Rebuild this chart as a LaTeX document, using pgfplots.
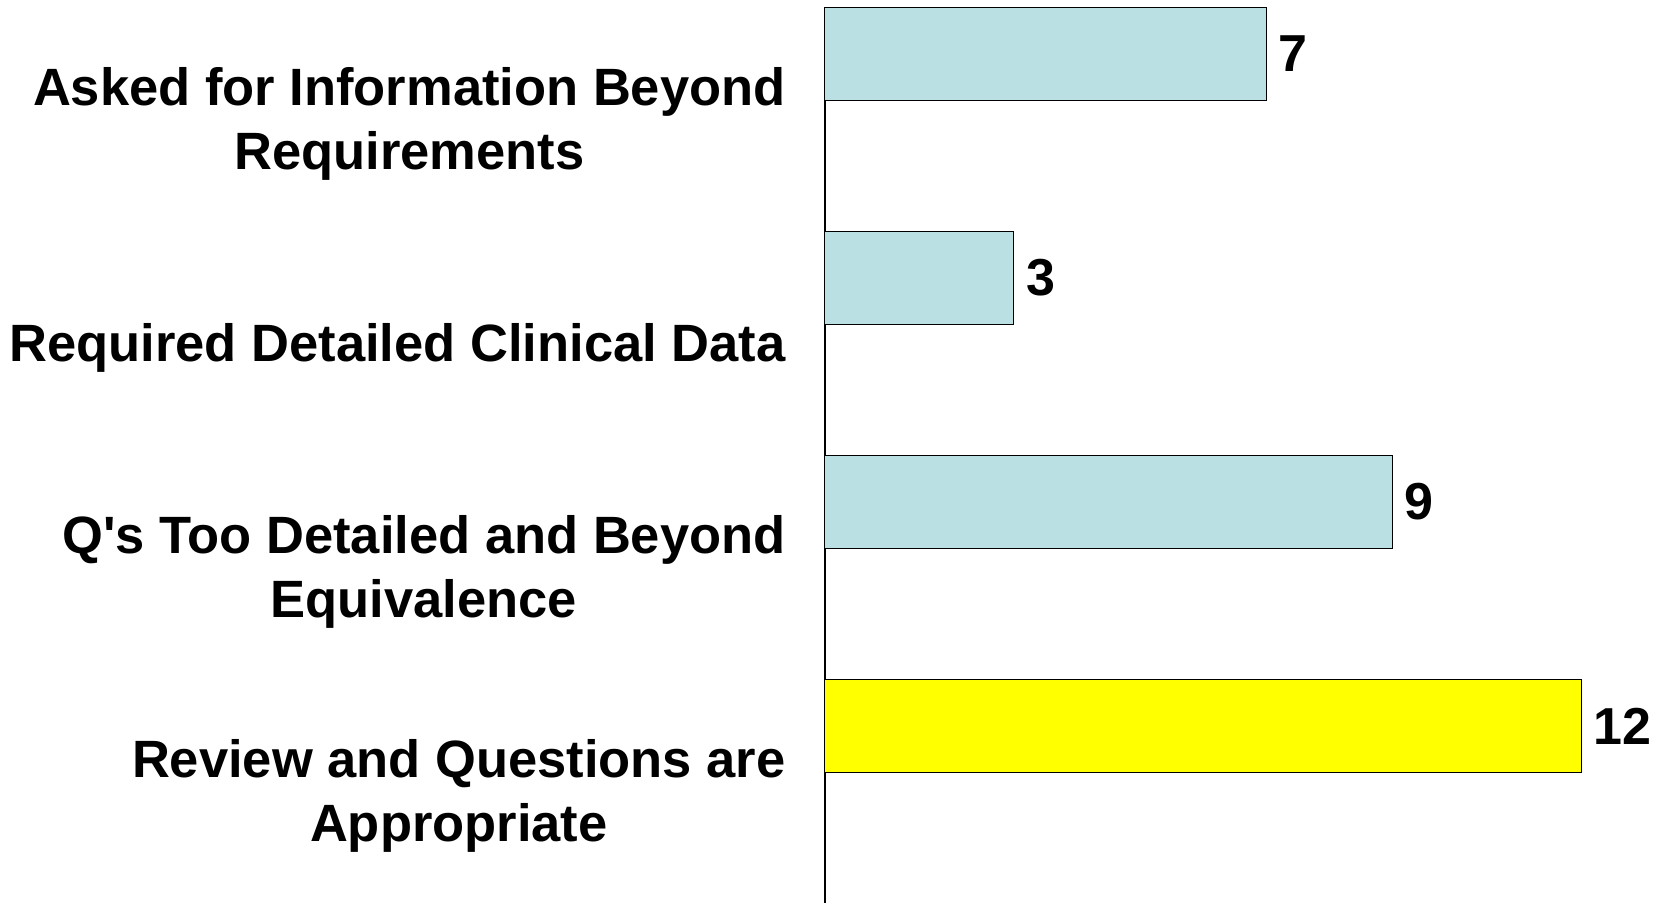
\documentclass[border=0pt]{standalone}
\usepackage{fontspec}
\setmainfont{Liberation Sans}
\usepackage{pgfplots}
\pgfplotsset{compat=1.18}
\definecolor{barblue}{RGB}{187,224,227}
\definecolor{baryellow}{RGB}{255,255,0}
\begin{document}
\begin{tikzpicture}
\begin{axis}[
  scale only axis, width=419.5pt, height=448pt,
  xmin=0, xmax=13.317, ymin=-0.5, ymax=3.5,
  xbar, bar width=0.415,
  axis x line=none, axis y line*=left,
  axis line style={-, black, line width=0.6pt},
  ytick={0,1,2,3},
  yticklabels={{Review and Questions are\\Appropriate},{Q\textquotesingle s Too Detailed and Beyond\\Equivalence},{Required Detailed Clinical Data},{Asked for Information Beyond\\Requirements}},
  ytick style={draw=none}, major tick length=0pt,
  yticklabel style={align=center, inner sep=0pt, xshift=-19.5pt, yshift=-2.3pt, font=\bfseries\fontsize{26.25}{32}\selectfont},
  nodes near coords, point meta=x,
  nodes near coords style={anchor=west, inner sep=0pt, xshift=6pt, font=\bfseries\fontsize{26}{32}\selectfont, text=black},
  /pgf/number format/assume math mode=true,
  clip=false,
]
\addplot[fill=barblue, draw=black, line width=0.5pt, bar shift=0.29] coordinates {(9,1) (3,2) (7,3)};
\addplot[fill=baryellow, draw=black, line width=0.5pt, bar shift=0.29] coordinates {(12,0)};
\end{axis}
\path (current axis.south west) ++(-412.5pt,0);
\path (current axis.north east) ++(0,3.5pt);
\end{tikzpicture}
\end{document}
